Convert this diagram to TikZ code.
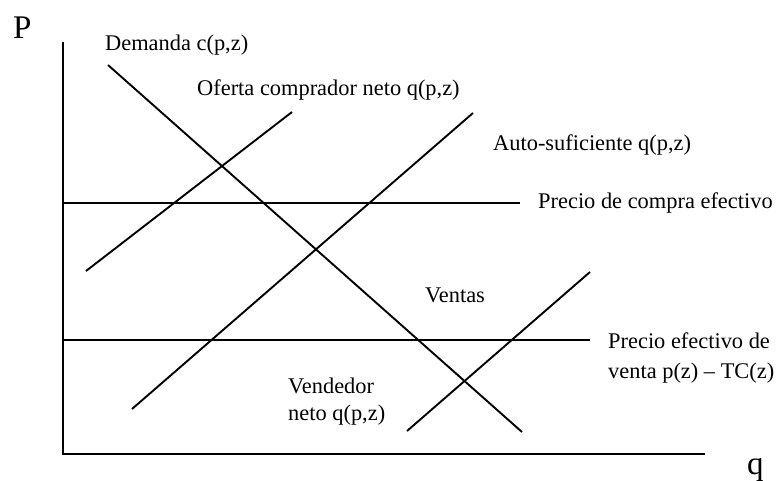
\documentclass[tikz,border=0pt]{standalone}
\usepackage{fontspec}
\setmainfont{Liberation Serif}
\begin{document}
\begin{tikzpicture}[x=1pt,y=-1pt,
  curve/.style={line width=1.9pt, line cap=butt},
  lbl/.style={anchor=base west, inner sep=0pt, font=\fontsize{22.4}{27}\selectfont},
  axlbl/.style={anchor=base west, inner sep=0pt, font=\fontsize{33}{36}\selectfont}]
\useasboundingbox (0,0) rectangle (780,480);
% axes
\coordinate (ytop) at (63,42);
\coordinate (orig) at (63,454);
\coordinate (xend) at (705,454);
\draw[curve] (ytop) -- (orig) -- (xend);
\node[axlbl] (P) at (13,38) {P};
\node[axlbl] (q) at (747,474) {q};
% demand
\coordinate (d1) at (108,65);
\coordinate (d2) at (522,432);
\draw[curve] (d1) -- (d2);
% net buyer supply
\coordinate (o1) at (86,271);
\coordinate (o2) at (292,112);
\draw[curve] (o1) -- (o2);
% autarkic
\coordinate (a1) at (132,409);
\coordinate (a2) at (473,113);
\draw[curve] (a1) -- (a2);
% net seller
\coordinate (v1) at (407,431);
\coordinate (v2) at (590,272);
\draw[curve] (v1) -- (v2);
% prices
\coordinate (c1) at (63,203);
\coordinate (c2) at (520,203);
\draw[curve] (c1) -- (c2);
\coordinate (s1) at (63,340);
\coordinate (s2) at (590,340);
\draw[curve] (s1) -- (s2);
% labels
\node[lbl] (ldem) at (105,50) {Demanda c(p,z)};
\node[lbl] (lof) at (197,95) {Oferta comprador neto q(p,z)};
\node[lbl] (laut) at (493,150) {Auto-suficiente q(p,z)};
\node[lbl] (lcom) at (538,208) {Precio de compra efectivo};
\node[lbl] (lven) at (425,302) {Ventas};
\node[lbl] (lpv1) at (608,348) {Precio efectivo de};
\node[lbl] (lpv2) at (608,378) {venta p(z) -- TC(z)};
\node[lbl] (lvn1) at (288,393) {Vendedor};
\node[lbl] (lvn2) at (288,420) {neto q(p,z)};
\end{tikzpicture}
\end{document}
